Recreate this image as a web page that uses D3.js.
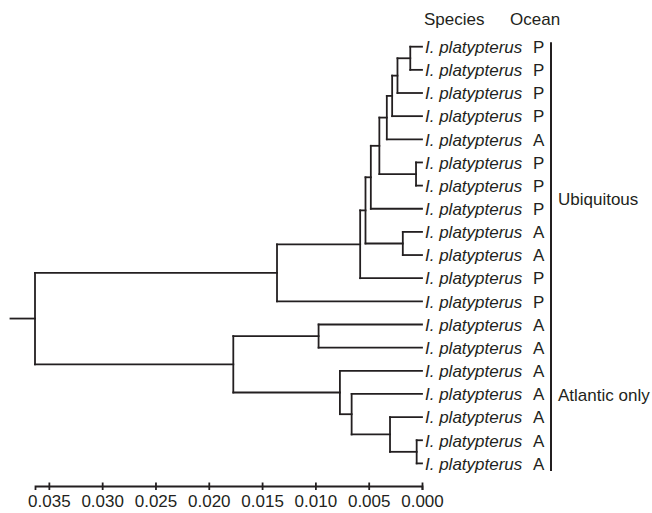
<!DOCTYPE html>
<html>
<head>
<meta charset="utf-8">
<script src="https://cdn.jsdelivr.net/npm/d3@7"></script>
<style>
  html, body { margin: 0; padding: 0; background: #fff; }
  text { font-family: "Liberation Sans", Arial, Helvetica, sans-serif; fill: #231f20; }
</style>
</head>
<body>
<svg id="chart" width="652" height="513"></svg>
<script>
// ---- Data ----
const tipIds = ["t1","t2","t3","t4","t5","t6","t7","t8","t9","t10","t11","t12","t13","t14","t15","t16","t17","t18","t19"];
const tipSpecies = ["I. platypterus","I. platypterus","I. platypterus","I. platypterus","I. platypterus","I. platypterus","I. platypterus","I. platypterus","I. platypterus","I. platypterus","I. platypterus","I. platypterus","I. platypterus","I. platypterus","I. platypterus","I. platypterus","I. platypterus","I. platypterus","I. platypterus"];
const tipOcean = ["P","P","P","P","A","P","P","P","A","A","P","P","A","A","A","A","A","A","A"];

const nodeNames = ["root","A","B","C","D","E","F","G","H","I","J","K","M","N","O","P","Q","R"];
const nodeHeights = [0.0363,0.0136,0.0058,0.0053,0.0048,0.0040,0.0033,0.0028,0.0023,0.0011,0.00056,0.0018,0.0177,0.0097,0.0077,0.0066,0.0030,0.0005];
const nodeChildren = [["A","M"],["B","t12"],["C","t11"],["D","K"],["E","t8"],["F","J"],["G","t5"],["H","t4"],["I","t3"],["t1","t2"],["t6","t7"],["t9","t10"],["N","O"],["t13","t14"],["t15","P"],["t16","Q"],["t17","R"],["t18","t19"]];
const rootStubHeight = 0.0386;

const headers = ["Species","Ocean"];
const groupLabels = ["Ubiquitous","Atlantic only"];
const groupFirstTip = [0,12];
const groupLastTip = [13,18];

const axisTicks = [0.035,0.030,0.025,0.020,0.015,0.010,0.005,0.000];

// ---- Build hierarchy ----
const childMap = {};
nodeNames.forEach((n,i)=>childMap[n]={id:n,height:nodeHeights[i],kids:nodeChildren[i]});
tipIds.forEach((t,i)=>childMap[t]={id:t,height:0,kids:null,idx:i});
function build(id){ const n=childMap[id]; return {id:n.id,h:n.height,idx:n.idx,children:n.kids?n.kids.map(build):undefined}; }
const root = d3.hierarchy(build("root"));

const svg = d3.select("#chart");
const ink = "#231f20";

const x = d3.scaleLinear().domain([0.0363, 0]).range([35, 422]);
const tipTop = 46.7, tipBottom = 463.4;

d3.cluster().size([1, 1]).separation(()=>1)(root);
const leaves = root.leaves();
const y = d3.scaleLinear().domain(d3.extent(leaves, l=>l.x)).range([tipTop, tipBottom]);
root.each(d=>{ d.py = y(d.x); d.px = x(d.data.h); });

const g = svg.append("g");
// horizontal branches
root.descendants().forEach(d=>{
  const parentX = d.parent ? d.parent.px : x(rootStubHeight);
  g.append("line").attr("x1",parentX).attr("x2",d.px).attr("y1",d.py).attr("y2",d.py)
    .attr("stroke",ink).attr("stroke-width",1.8).attr("stroke-linecap","square");
});
// vertical connectors
root.descendants().filter(d=>d.children).forEach(d=>{
  const ys = d.children.map(c=>c.py);
  g.append("line").attr("x1",d.px).attr("x2",d.px).attr("y1",d3.min(ys)).attr("y2",d3.max(ys))
    .attr("stroke",ink).attr("stroke-width",1.8).attr("stroke-linecap","square");
});

// tip labels
leaves.forEach(l=>{
  const i = l.data.idx;
  svg.append("text").attr("x",425).attr("y",l.py).attr("dy","0.37em")
    .attr("font-size",17).attr("font-style","italic").text(tipSpecies[i]);
  svg.append("text").attr("x",533).attr("y",l.py).attr("dy","0.37em")
    .attr("font-size",17).text(tipOcean[i]);
});

// headers
svg.append("text").attr("x",424).attr("y",25).attr("font-size",17).text(headers[0]);
svg.append("text").attr("x",510).attr("y",25).attr("font-size",17).text(headers[1]);

// group bars
const tipY = i => leaves.find(l=>l.data.idx===i).py;
groupLabels.forEach((lab,k)=>{
  const y1 = tipY(groupFirstTip[k]) - 4.5, y2 = tipY(groupLastTip[k]) + 7.5;
  svg.append("line").attr("x1",551).attr("x2",551).attr("y1",y1).attr("y2",y2)
    .attr("stroke",ink).attr("stroke-width",2);
  svg.append("text").attr("x",558).attr("y",(y1+y2)/2).attr("dy","0.35em")
    .attr("font-size",17).text(lab);
});

// axis
const axis = d3.axisBottom(x).tickValues(axisTicks).tickFormat(d3.format(".3f")).tickSizeOuter(0).tickSize(4);
const ag = svg.append("g").attr("transform","translate(0,486)").call(axis);
ag.select(".domain").attr("stroke",ink).attr("stroke-width",1.8);
ag.selectAll(".tick line").attr("y1",-3.5).attr("y2",4).attr("stroke",ink).attr("stroke-width",1.8);
ag.selectAll(".tick text").attr("y",20.5).attr("dy",0).attr("font-size",17)
  .attr("font-family","Liberation Sans, Arial, sans-serif").attr("fill",ink);
</script>
</body>
</html>
